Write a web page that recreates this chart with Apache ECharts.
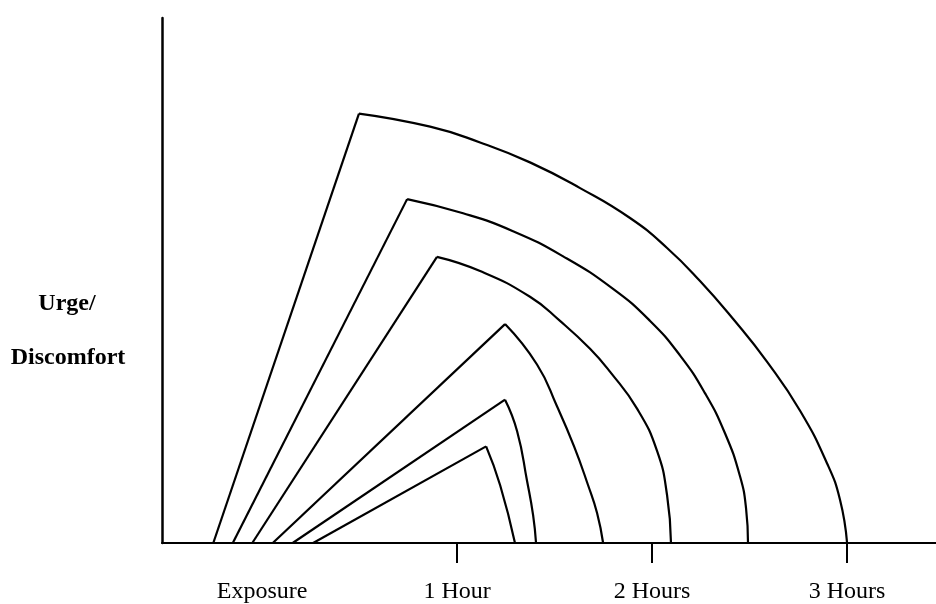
<!DOCTYPE html>
<html>
<head>
<meta charset="utf-8">
<script src="https://cdn.jsdelivr.net/npm/echarts@6/dist/echarts.min.js"></script>
<style>
  html, body { margin: 0; padding: 0; background: #fff; }
  #main { width: 936px; height: 604px; }
</style>
</head>
<body>
<div id="main"></div>
<script>
// x in hours after exposure, y in arbitrary urge units
var tickLabels = ['Exposure', '1 Hour', '2 Hours', '3 Hours'];
var labelValues = [0, 1, 2, 3];
var tickValues = [1, 2, 3];

// where each curve leaves the baseline, and its peak
var curveStarts = [-0.25, -0.15, -0.05, 0.055, 0.157, 0.262];
var curvePeaks = [[0.497, 8.18], [0.744, 6.55], [0.897, 5.45], [1.246, 4.17], [1.246, 2.73], [1.149, 1.84]];

// decay arcs after the peak
var arc1 = [[0.862, 7.93], [1.118, 7.63], [1.374, 7.25], [1.631, 6.76], [1.887, 6.19], [2.077, 5.62], [2.246, 4.99], [2.415, 4.27], [2.590, 3.45], [2.759, 2.52], [2.897, 1.52], [2.964, 0.82], [3.0, 0]];
var arc2 = [[1.031, 6.28], [1.287, 5.94], [1.544, 5.46], [1.800, 4.84], [1.990, 4.23], [2.144, 3.57], [2.272, 2.85], [2.374, 2.09], [2.451, 1.27], [2.482, 0.66], [2.492, 0]];
var arc3 = [[1.118, 5.18], [1.374, 4.69], [1.528, 4.23], [1.682, 3.70], [1.785, 3.26], [1.923, 2.56], [2.026, 1.75], [2.077, 0.91], [2.097, 0]];
var arc4 = [[1.410, 3.40], [1.513, 2.60], [1.600, 1.84], [1.672, 1.10], [1.718, 0.57], [1.749, 0]];
var arc5 = [[1.308, 2.13], [1.359, 1.18], [1.390, 0.53], [1.405, 0]];
var arc6 = [[1.221, 1.10], [1.297, 0]];
var arcs = [arc1, arc2, arc3, arc4, arc5, arc6];

var myChart = echarts.init(document.getElementById('main'));

var series = [];
for (var i = 0; i < curveStarts.length; i++) {
    // straight rise
    series.push({
        type: 'line',
        data: [[curveStarts[i], 0], curvePeaks[i]],
        symbol: 'none',
        lineStyle: { color: '#000', width: 2.2 }
    });
    // curved fall
    series.push({
        type: 'line',
        data: [curvePeaks[i]].concat(arcs[i]),
        symbol: 'none',
        smooth: 0.5,
        lineStyle: { color: '#000', width: 2.2 }
    });
}

var serif = 'Liberation Serif';

var option = {
    animation: false,
    backgroundColor: '#fff',
    grid: { left: 162, right: 0, top: 18, bottom: 59 },
    xAxis: {
        type: 'value',
        min: -0.513,
        max: 3.456,
        splitLine: { show: false },
        axisLine: { lineStyle: { color: '#000', width: 2 } },
        axisTick: {
            customValues: tickValues,
            length: 20,
            lineStyle: { color: '#000', width: 2 }
        },
        axisLabel: {
            customValues: labelValues,
            margin: 37,
            color: '#000',
            fontFamily: serif,
            fontSize: 24,
            formatter: function (v) { return tickLabels[Math.round(v)]; }
        }
    },
    yAxis: {
        type: 'value',
        min: 0,
        max: 10,
        splitLine: { show: false },
        axisTick: { show: false },
        axisLabel: { show: false },
        axisLine: { show: true, onZero: false, lineStyle: { color: '#000', width: 2.5 } }
    },
    graphic: [
        {
            type: 'text', x: 67, y: 304,
            style: { text: 'Urge/', align: 'center', verticalAlign: 'middle', fontFamily: serif, fontWeight: 'bold', fontSize: 24, fill: '#000' }
        },
        {
            type: 'text', x: 68, y: 358,
            style: { text: 'Discomfort', align: 'center', verticalAlign: 'middle', fontFamily: serif, fontWeight: 'bold', fontSize: 24, fill: '#000' }
        }
    ],
    series: series
};

myChart.setOption(option);
</script>
</body>
</html>
